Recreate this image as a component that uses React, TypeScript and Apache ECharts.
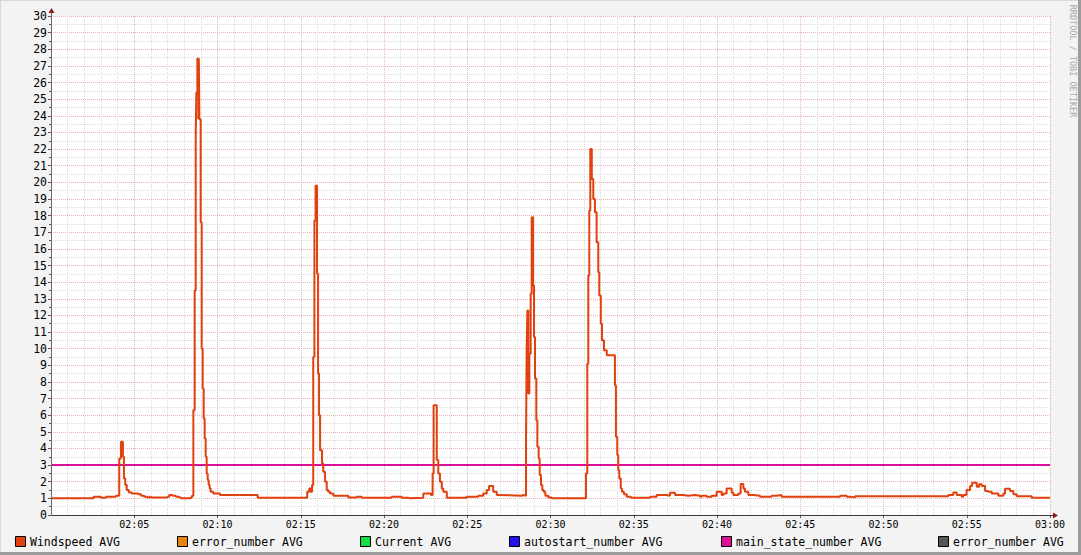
import React, { useEffect, useRef } from 'react';
import * as echarts from 'echarts';

// minutes after 02:00 at which each RRD step starts
const timeMinutes = [
  0, 2.56, 3.0, 3.3, 3.9, 4.1, 4.2, 4.32, 4.38, 4.46, 4.55, 4.67, 4.85, 5.24, 5.41, 5.6, 5.8, 5.93, 6.0,
  7.0, 7.1, 7.3, 7.5, 7.7, 7.8, 8.4, 8.47, 8.55, 8.63, 8.69, 8.73, 8.79, 8.85, 8.88, 8.91, 8.99,
  9.05, 9.11, 9.17, 9.23, 9.29, 9.35, 9.41, 9.47, 9.53, 9.59, 9.75, 10.15, 12.41,
  15.39, 15.51, 15.6, 15.68, 15.75, 15.82, 15.89, 15.98, 16.04, 16.1, 16.16, 16.28, 16.35, 16.46,
  16.56, 16.65, 16.76, 16.96, 17.86, 18.36, 18.66, 20.46, 21.06, 21.46, 21.56, 22.36, 22.82,
  22.92, 22.98, 23.17, 23.26, 23.36, 23.47, 23.56, 23.77, 24.97, 25.66, 25.96, 26.17, 26.31,
  26.56, 26.77, 26.86, 28.27, 28.37, 28.53, 28.57, 28.61, 28.67, 28.73, 28.81, 28.87, 28.95,
  29.01, 29.07, 29.15, 29.21, 29.29, 29.35, 29.43, 29.51, 29.59, 29.69, 29.87, 30.07,
  32.13, 32.21, 32.27, 32.33, 32.39, 32.48, 32.57, 32.67, 32.77, 32.87, 32.93, 33.02, 33.09,
  33.21, 33.38, 33.87, 33.93, 34.01, 34.07, 34.13, 34.22, 34.29, 34.41, 34.58, 34.83,
  35.98, 36.38, 36.98, 37.18, 37.48, 37.98, 38.28, 38.68, 38.98, 39.08, 39.38, 39.68, 39.98,
  40.28, 40.38, 40.58, 40.88, 40.98, 41.28, 41.42, 41.58, 41.68, 41.88, 42.18, 42.58, 43.28,
  43.58, 43.88, 47.39, 47.79, 47.99, 48.29, 53.89, 54.19, 54.4, 54.7, 54.79, 54.99, 55.2, 55.32,
  55.6, 55.74, 55.9, 56.1, 56.29, 56.5, 56.9, 57.2, 57.3, 57.6, 57.8, 58.0, 58.9, 60,
];

const windspeed = [
  1.0, 1.1, 1.04, 1.1, 1.16, 3.4, 4.4, 3.5, 2.2, 1.8, 1.5, 1.35, 1.3, 1.25, 1.15, 1.1, 1.05, 1.1, 1.05,
  1.1, 1.2, 1.15, 1.1, 1.05, 1.0, 1.05, 1.15, 6.3, 13.5, 22.7, 25.4, 27.45, 23.8, 27.45, 23.8, 17.6,
  10.0, 7.6, 5.8, 4.6, 3.5, 2.5, 2.1, 1.8, 1.6, 1.4, 1.3, 1.2, 1.04,
  1.4, 1.6, 1.4, 1.8, 9.5, 17.7, 19.8, 14.5, 8.5, 6.0, 3.9, 3.1, 2.6, 2.0,
  1.5, 1.4, 1.3, 1.16, 1.05, 1.1, 1.04, 1.1, 1.04, 1.0, 1.04, 1.3, 1.2,
  2.5, 6.6, 3.3, 2.5, 2.0, 1.6, 1.4, 1.04, 1.1, 1.15, 1.3, 1.5, 1.75,
  1.4, 1.2, 1.16, 1.2, 1.16, 4.5, 10.0, 12.3, 7.3, 9.7, 13.3, 17.9, 13.8,
  10.7, 8.2, 5.7, 4.1, 3.4, 2.4, 1.8, 1.5, 1.4, 1.15, 1.05, 1.0,
  2.5, 9.1, 14.4, 18.3, 22.0, 20.2, 19.0, 18.2, 16.4, 14.6, 13.2, 11.5, 10.5,
  9.9, 9.6, 7.8, 4.7, 3.6, 2.7, 2.2, 1.6, 1.4, 1.25, 1.1, 1.04,
  1.1, 1.2, 1.16, 1.34, 1.2, 1.16, 1.2, 1.16, 1.1, 1.16, 1.1, 1.16, 1.4,
  1.2, 1.3, 1.6, 1.35, 1.2, 1.3, 1.86, 1.6, 1.4, 1.2, 1.16, 1.1, 1.16,
  1.2, 1.1, 1.15, 1.1, 1.06, 1.12, 1.2, 1.35, 1.2, 1.1, 1.2, 1.5, 1.75, 1.94,
  1.7, 1.85, 1.75, 1.45, 1.4, 1.3, 1.15, 1.3, 1.58, 1.45, 1.25, 1.12, 1.04, 1.04,
];

const mainStateNumber = 3;

const legendNames = [
  'Windspeed AVG',
  'error_number AVG',
  'Current AVG',
  'autostart_number AVG',
  'main_state_number AVG',
  'error_number AVG',
];
const legendColors = ['#E2400C', '#E8840C', '#11DD44', '#2211EE', '#DD1199', '#555555'];
const legendLeft = [15, 177, 360, 509, 721, 938];

const MONO = '"DejaVu Sans Mono", "Liberation Mono", monospace';

function fmtTime(v: number): string {
  if (v === 0) return '';
  const total = 120 + v;
  const h = Math.floor(total / 60);
  const m = Math.round(total % 60);
  return `${String(h).padStart(2, '0')}:${String(m).padStart(2, '0')}`;
}

export default function App() {
  const ref = useRef<HTMLDivElement>(null);

  useEffect(() => {
    if (!ref.current) return;
    const chart = echarts.init(ref.current, null, { renderer: 'svg' });

    const windData = timeMinutes.map((t, i) => [t, windspeed[i]]);
    const stateData = [
      [0, mainStateNumber],
      [60, mainStateNumber],
    ];

    const legendGraphics: any[] = [];
    legendNames.forEach((name, i) => {
      legendGraphics.push({
        type: 'rect',
        shape: { x: legendLeft[i] + 0.5, y: 536.5, width: 10, height: 10 },
        style: { fill: legendColors[i], stroke: '#000', lineWidth: 1 },
      });
      legendGraphics.push({
        type: 'text',
        x: legendLeft[i] + 15,
        y: 541.5,
        style: {
          text: name,
          fill: '#000',
          font: `11.5px ${MONO}`,
          verticalAlign: 'middle',
        },
      });
    });

    const major = { show: true, lineStyle: { color: '#EDB4B4', type: [1, 1], width: 1 } };
    const minor = { show: true, lineStyle: { color: '#DCDCDC', type: [1, 1], width: 1 } };

    const option: any = {
      animation: false,
      backgroundColor: '#F3F3F3',
      grid: {
        left: 51,
        right: 31,
        top: 16,
        bottom: 40,
        show: true,
        backgroundColor: '#FFFFFF',
        borderWidth: 0,
      },
      xAxis: {
        type: 'value',
        min: 0,
        max: 60,
        interval: 5,
        axisLine: { show: false },
        axisTick: { show: true, length: 3, lineStyle: { color: '#555' } },
        minorTick: { show: false, splitNumber: 5 },
        axisLabel: {
          formatter: fmtTime,
          color: '#000',
          fontFamily: MONO,
          fontSize: 10,
          margin: 4,
          showMinLabel: false,
        },
        splitLine: major,
        minorSplitLine: minor,
      },
      yAxis: {
        type: 'value',
        min: 0,
        max: 30,
        interval: 1,
        axisLine: { show: false },
        axisTick: { show: true, length: 3, lineStyle: { color: '#555' } },
        minorTick: { show: true, splitNumber: 2, length: 2, lineStyle: { color: '#555' } },
        axisLabel: {
          color: '#000',
          fontFamily: MONO,
          fontSize: 11.5,
          margin: 4,
        },
        splitLine: major,
        minorSplitLine: minor,
      },
      series: [
        {
          name: 'main_state_number AVG',
          type: 'line',
          data: stateData,
          showSymbol: false,
          symbol: 'none',
          lineStyle: { color: '#DD1199', width: 2 },
          z: 3,
        },
        {
          name: 'Windspeed AVG',
          type: 'line',
          data: windData,
          step: 'end',
          showSymbol: false,
          symbol: 'none',
          lineStyle: { color: '#E2400C', width: 2 },
          z: 4,
        },
      ],
      graphic: [
        { type: 'line', shape: { x1: 0, y1: 0.5, x2: 1081, y2: 0.5 }, style: { stroke: '#D8D8D8', lineWidth: 1 } },
        { type: 'line', shape: { x1: 0.5, y1: 0, x2: 0.5, y2: 555 }, style: { stroke: '#D8D8D8', lineWidth: 1 } },
        { type: 'rect', shape: { x: 1078, y: 0, width: 3, height: 555 }, style: { fill: '#9C9C9C' } },
        { type: 'rect', shape: { x: 0, y: 552, width: 1081, height: 3 }, style: { fill: '#9C9C9C' } },
        { type: 'line', z: 10, shape: { x1: 51.5, y1: 515.5, x2: 1055, y2: 515.5 }, style: { stroke: '#3A3A3A', lineWidth: 1 } },
        { type: 'line', z: 10, shape: { x1: 51.5, y1: 515.5, x2: 51.5, y2: 11 }, style: { stroke: '#6A6A6A', lineWidth: 1 } },
        { type: 'polygon', z: 10, shape: { points: [[1053, 512.5], [1053, 518.5], [1058, 515.5]] }, style: { fill: '#8B1A1A' } },
        { type: 'polygon', z: 10, shape: { points: [[48.5, 13], [54.5, 13], [51.5, 8]] }, style: { fill: '#8B1A1A' } },
        {
          type: 'text',
          x: 1073,
          y: 61,
          rotation: -Math.PI / 2,
          style: {
            text: 'RRDTOOL / TOBI OETIKER',
            fill: '#A8A8A8',
            font: `8.5px ${MONO}`,
            align: 'center',
            verticalAlign: 'middle',
          },
        },
        ...legendGraphics,
      ],
    };

    chart.setOption(option);
    return () => chart.dispose();
  }, []);

  return (
    <div
      ref={ref}
      style={{ position: 'fixed', left: 0, top: 0, width: 1081, height: 555 }}
    />
  );
}
